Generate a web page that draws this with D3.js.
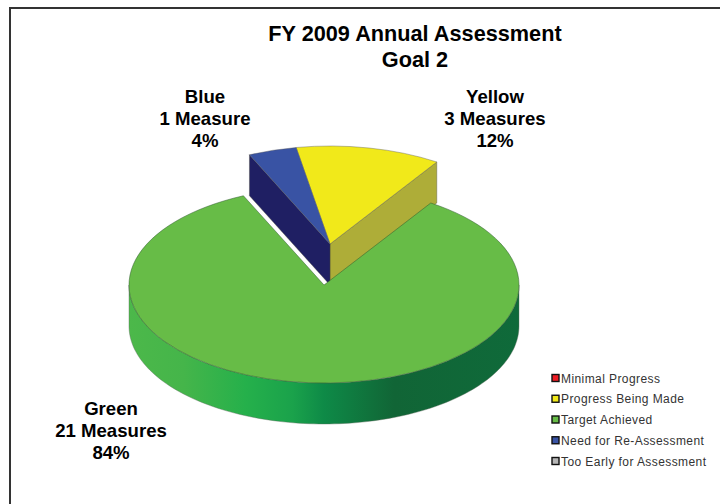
<!DOCTYPE html>
<html>
<head>
<meta charset="utf-8">
<script src="https://cdn.jsdelivr.net/npm/d3@7"></script>
<style>
html,body{margin:0;padding:0;background:#fff;}
svg{display:block;}
text{font-family:"Liberation Sans",Arial,sans-serif;fill:#000;}
</style>
</head>
<body>
<svg id="chart" width="720" height="504"></svg>
<script>
// FY 2009 assessment results, in the clockwise drawing order of the pie
const sliceNames = ["Yellow", "Green", "Blue"];
const sliceMeasures = [3, 21, 1];
const sliceLabels = ["3 Measures", "21 Measures", "1 Measure"];
const slicePercents = ["12%", "84%", "4%"];
const sliceTops = ["#f1e91a", "#67bc47", "#3953a4"];
const sliceSides = ["#aead38", "#0f6a3a", "#1f1f63"];
const titleLines = ["FY 2009 Annual Assessment", "Goal 2"];
const legendNames = ["Minimal Progress", "Progress Being Made", "Target Achieved", "Need for Re-Assessment", "Too Early for Assessment"];
const legendColors = ["#ed1c24", "#f1e91a", "#67bc47", "#3953a4", "#b5b5b5"];

const svg = d3.select("#chart");

// Outer frame: only the top and left rules fall inside the page
svg.append("path").attr("d", "M10,504V8H720").attr("fill", "none")
  .attr("stroke", "#333").attr("stroke-width", 2);

// Pie layout, tilted by squashing the y axis
const radius = 195, tilt = 98 / 195, depth = 41;
const mainCenter = [324, 285], explodedCenter = [330, 244];
const pieLayout = d3.pie().sort(null).value(d => d)
  .startAngle(-10 * Math.PI / 180).endAngle(350 * Math.PI / 180);
const slices = pieLayout(sliceMeasures);
const arcTop = d3.arc().innerRadius(0).outerRadius(radius);

const onRim = (c, a) => [c[0] + radius * Math.sin(a), c[1] - radius * tilt * Math.cos(a)];
const sampled = (a0, a1, n) => d3.range(n + 1).map(i => a0 + (a1 - a0) * i / n);
const line = d3.line();

// Wall gradient running left to right across the front of the green slice
const defs = svg.append("defs");
const grad = defs.append("linearGradient").attr("id", "greenWall")
  .attr("gradientUnits", "userSpaceOnUse")
  .attr("x1", mainCenter[0] - radius).attr("x2", mainCenter[0] + radius)
  .attr("y1", 0).attr("y2", 0);
[[0, "#4cb84a"], [0.14, "#45b54a"], [0.3, "#25b04b"], [0.42, "#1aa24b"], [0.5, "#0e8a47"],
 [0.68, "#116536"], [1, "#0f6a3a"]].forEach(([o, c]) =>
  grad.append("stop").attr("offset", o).attr("stop-color", c));

const [yellow, green, blue] = slices;
const edge = "#4a4a3a";

// Flat walls of the pulled-out wedge, seen through the gap in the green slice
const wall = (c, a, fill) => {
  const p = onRim(c, a);
  svg.append("path")
    .attr("d", line([c, p, [p[0], p[1] + depth], [c[0], c[1] + depth]]) + "Z")
    .attr("fill", fill).attr("stroke", edge).attr("stroke-width", 0.4);
};
wall(explodedCenter, yellow.endAngle, sliceSides[0]);
wall(explodedCenter, blue.startAngle, sliceSides[2]);

// Tops of the pulled-out wedge
[yellow, blue].forEach(s => {
  const i = slices.indexOf(s);
  svg.append("path")
    .attr("transform", `translate(${explodedCenter}) scale(1,${tilt})`)
    .attr("d", arcTop(s))
    .attr("fill", sliceTops[i]).attr("stroke", "#555").attr("stroke-width", 0.4)
    .attr("vector-effect", "non-scaling-stroke");
});

// Curved outer wall of the green slice, only its front half is visible
const front = sampled(Math.PI / 2, 3 * Math.PI / 2, 120);
const topRim = front.map(a => onRim(mainCenter, a));
const lowRim = topRim.map(p => [p[0], p[1] + depth]).reverse();
svg.append("path").attr("d", line(topRim.concat(lowRim)) + "Z")
  .attr("fill", "url(#greenWall)").attr("stroke", "#5a6a5a").attr("stroke-width", 0.4);

// Green top surface
svg.append("path")
  .attr("transform", `translate(${mainCenter}) scale(1,${tilt})`)
  .attr("d", arcTop(green))
  .attr("fill", sliceTops[1]).attr("stroke", "#2f5a2f").attr("stroke-width", 0.5)
  .attr("vector-effect", "non-scaling-stroke");

// Title
svg.append("g").selectAll("text").data(titleLines).join("text")
  .attr("x", 415).attr("y", (d, i) => 40.5 + i * 26)
  .attr("text-anchor", "middle").attr("font-size", 21.7).attr("font-weight", "bold")
  .text(d => d);

// Slice callouts: name, measure count, share
const calloutAnchors = [[495, 103], [111, 415], [205, 103]];
sliceNames.forEach((name, i) => {
  const g = svg.append("g").attr("font-size", 18.6).attr("font-weight", "bold").attr("text-anchor", "middle");
  [name, sliceLabels[i], slicePercents[i]].forEach((t, j) => {
    g.append("text").attr("x", calloutAnchors[i][0]).attr("y", calloutAnchors[i][1] + j * 22).text(t);
  });
});

// Legend
const rowY = d3.scaleLinear().domain([0, 4]).range([378, 461]);
const legend = svg.append("g");
legendNames.forEach((name, i) => {
  legend.append("rect").attr("x", 552).attr("y", rowY(i) - 3.5).attr("width", 7).attr("height", 7)
    .attr("fill", legendColors[i]).attr("stroke", "#111").attr("stroke-width", 1.4);
  legend.append("text").attr("x", 561).attr("y", rowY(i) + 4.5)
    .attr("font-size", 12).attr("letter-spacing", 0.42).style("fill", "#333").text(name);
});
</script>
</body>
</html>
